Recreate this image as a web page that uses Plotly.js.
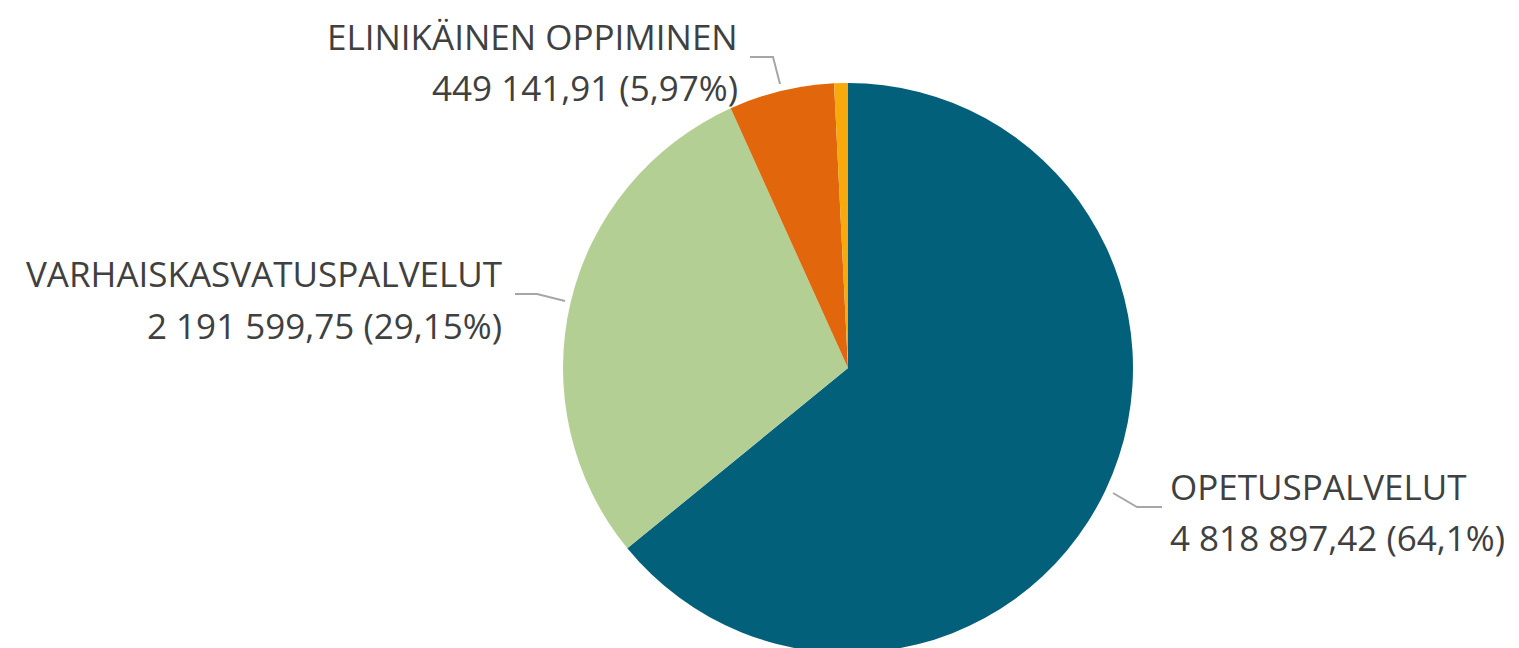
<!DOCTYPE html>
<html>
<head>
<meta charset="utf-8">
<script src="https://cdn.plot.ly/plotly-3.0.1.min.js"></script>
<style>
html,body{margin:0;padding:0;overflow:hidden;background:#fff;}
#chart{width:1519px;height:700px;}
</style>
</head>
<body>
<div id="chart"></div>
<script>
// Data
const categories = ["OPETUSPALVELUT", "VARHAISKASVATUSPALVELUT", "ELINIKÄINEN OPPIMINEN", "MUU"];
const values = [4818897.42, 2191599.75, 449141.91, 58600];
const valueLabels = ["4 818 897,42", "2 191 599,75", "449 141,91", ""];
const percentLabels = ["64,1%", "29,15%", "5,97%", ""];
const colors = ["#03607A", "#B3CF94", "#E2670C", "#F9A90C"];

const W = 1519, H = 700;
const cx = 848, cy = 368, R = 285;
const px = x => x / W;
const py = y => (H - y) / H;

const font = {family: "Open Sans, Noto Sans, sans-serif", size: 35, color: "#404040"};

// Label placement (decoration)
const labelPos = [
  {x: 1168, y1: 486, y2: 537, align: "left"},
  {x: 504, y1: 273, y2: 325, align: "right"},
  {x: 740, y1: 37, y2: 88, align: "right"}
];
const leaders = [
  [[1113, 493], [1137, 507], [1162, 507]],
  [[515, 294], [537, 294], [565, 301]],
  [[750, 57], [773, 57], [780, 84]]
];

const annotations = [];
labelPos.forEach((p, i) => {
  annotations.push({xref: "paper", yref: "paper", x: px(p.x), y: py(p.y1), xanchor: p.align, yanchor: "middle",
    text: categories[i], showarrow: false, font: font});
  annotations.push({xref: "paper", yref: "paper", x: px(p.x), y: py(p.y2), xanchor: p.align, yanchor: "middle",
    text: valueLabels[i] + " (" + percentLabels[i] + ")", showarrow: false, font: font});
});

const shapes = leaders.map(pts => ({
  type: "path", xref: "paper", yref: "paper",
  path: pts.map((p, k) => (k ? "L" : "M") + px(p[0]) + "," + py(p[1])).join(" "),
  line: {color: "#A6A6A6", width: 2}
}));

const trace = {
  type: "pie",
  labels: categories,
  values: values,
  marker: {colors: colors, line: {width: 0}},
  sort: false,
  direction: "clockwise",
  rotation: 0,
  textinfo: "none",
  hoverinfo: "none",
  showlegend: false,
  domain: {x: [px(cx - R), px(cx + R)], y: [py(cy + R), py(cy - R)]}
};

Plotly.newPlot("chart", [trace], {
  width: W, height: H,
  margin: {l: 0, r: 0, t: 0, b: 0},
  paper_bgcolor: "#fff",
  showlegend: false,
  annotations: annotations,
  shapes: shapes
}, {staticPlot: true, displayModeBar: false});
</script>
</body>
</html>
